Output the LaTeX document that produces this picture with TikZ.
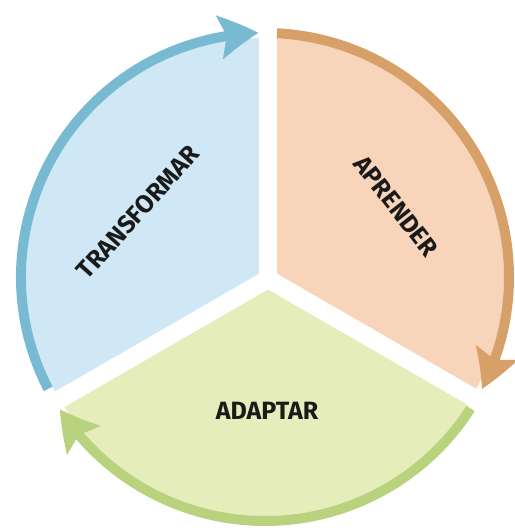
\documentclass[tikz,border=0pt]{standalone}
\usepackage{fontspec}
\setmainfont{Fira Sans}
\usetikzlibrary{arrows.meta,bending,calc}
\definecolor{bluefill}{HTML}{D0E7F6}
\definecolor{bluestroke}{HTML}{78BAD2}
\definecolor{orangefill}{HTML}{F8D5BA}
\definecolor{orangestroke}{HTML}{D7A069}
\definecolor{greenfill}{HTML}{E5EDBA}
\definecolor{greenstroke}{HTML}{B9D27D}
\definecolor{inktext}{HTML}{1A1A1A}
\begin{document}
\begin{tikzpicture}[x=1pt,y=1pt,
  gapline/.style={white, line width=18pt, line cap=butt},
  ring/.style={line width=10pt, line cap=butt,
    -{Stealth[length=39pt,width=43pt,inset=7pt,bend]}},
  wordlabel/.style={font=\bfseries\fontsize{25}{25}\selectfont, text=inktext, inner sep=0pt}]
\useasboundingbox (0,0) rectangle (514,530);
\coordinate (C) at (268,251);
\coordinate (O) at (265,253);
% sectors
\begin{scope}
\clip (C) -- ($(C)+(90:300)$) -- ($(C)+(150:300)$) -- ($(C)+(210:300)$) -- cycle;
\fill[bluefill] (O) circle[radius=239];
\end{scope}
\begin{scope}
\clip (C) -- ($(C)+(-30:300)$) -- ($(C)+(30:300)$) -- ($(C)+(90:300)$) -- cycle;
\fill[orangefill] (O) circle[radius=239];
\end{scope}
\begin{scope}
\clip (C) -- ($(C)+(210:300)$) -- ($(C)+(270:300)$) -- ($(C)+(330:300)$) -- cycle;
\fill[greenfill] (O) circle[radius=239];
\end{scope}
% gaps
\draw[gapline] ($(C)+(270:10.4)$) -- ($(C)+(90:262)$);
\draw[gapline] ($(C)+(30:10.4)$) -- ($(C)+(210:262)$);
\draw[gapline] ($(C)+(150:10.4)$) -- ($(C)+(330:262)$);
% arrows
\draw[ring, bluestroke] ($(O)+(207.3:244)$) arc[start angle=207.3,end angle=91.5,radius=244];
\draw[ring, orangestroke] ($(O)+(87.2:244)$) arc[start angle=87.2,end angle=-27.3,radius=244];
\draw[ring, greenstroke] ($(O)+(-32.6:244)$) arc[start angle=-32.6,end angle=-147.2,radius=244];
% labels
\node[wordlabel, rotate=48] (tr) at (138,318) {TRANSFORMAR};
\node[wordlabel, rotate=-52] (ap) at (396,324) {APRENDER};
\node[wordlabel] (ad) at (267,119.5) {ADAPTAR};
\end{tikzpicture}
\end{document}
